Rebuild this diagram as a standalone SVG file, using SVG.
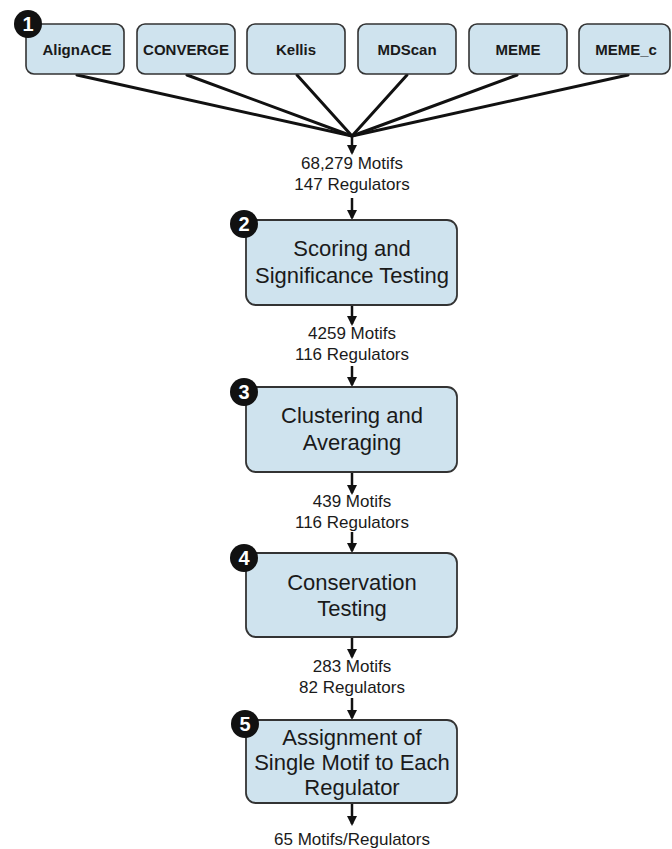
<svg xmlns="http://www.w3.org/2000/svg" width="672" height="849" viewBox="0 0 672 849">
<defs>
<style>
.src rect{fill:#cfe3ee;stroke:#333;stroke-width:1.6}
.src text{font-family:"Liberation Sans",Arial,sans-serif;font-weight:bold;font-size:15px;fill:#1a1a1a;text-anchor:middle}
.step rect{fill:#cfe3ee;stroke:#333;stroke-width:1.8}
.step text{font-family:"Liberation Sans",Arial,sans-serif;font-size:22px;fill:#1a1a1a;text-anchor:middle}
.badge circle{fill:#111}
.badge text{font-family:"Liberation Sans",Arial,sans-serif;font-weight:bold;font-size:20px;fill:#fff;text-anchor:middle}
.lbl{font-family:"Liberation Sans",Arial,sans-serif;font-size:17px;fill:#1a1a1a;text-anchor:middle}
.fan{stroke:#111;stroke-width:3;fill:none;stroke-linecap:round}
.arr{stroke:#111;stroke-width:2.5;fill:none;marker-end:url(#ah)}
</style>
<marker id="ah" markerWidth="4" markerHeight="4" refX="3.2" refY="2" orient="auto" markerUnits="strokeWidth">
<path d="M0,0 L4,2 L0,4 Z" fill="#111"/>
</marker>
</defs>

<g id="connectors">
<line class="fan" x1="77" y1="75" x2="352" y2="136"/>
<line class="fan" x1="187" y1="75" x2="352" y2="136"/>
<line class="fan" x1="297" y1="75" x2="352" y2="136"/>
<line class="fan" x1="407" y1="75" x2="352" y2="136"/>
<line class="fan" x1="517" y1="75" x2="352" y2="136"/>
<line class="fan" x1="628" y1="75" x2="352" y2="136"/>
<line class="arr" x1="352" y1="136" x2="352" y2="153"/>
<line class="arr" x1="352" y1="198" x2="352" y2="218"/>
<line class="arr" x1="352" y1="305" x2="352" y2="324"/>
<line class="arr" x1="352" y1="366" x2="352" y2="385"/>
<line class="arr" x1="352" y1="472" x2="352" y2="493"/>
<line class="arr" x1="352" y1="532" x2="352" y2="551"/>
<line class="arr" x1="352" y1="637" x2="352" y2="657"/>
<line class="arr" x1="352" y1="698" x2="352" y2="718"/>
<line class="arr" x1="352" y1="803" x2="352" y2="824"/>
</g>

<g id="src-alignace" class="src"><rect x="26" y="24" width="98" height="50" rx="8"/><text x="77" y="55">AlignACE</text></g>
<g id="src-converge" class="src"><rect x="137" y="24" width="98" height="50" rx="8"/><text x="186" y="55">CONVERGE</text></g>
<g id="src-kellis" class="src"><rect x="247" y="24" width="98" height="50" rx="8"/><text x="296" y="55">Kellis</text></g>
<g id="src-mdscan" class="src"><rect x="358" y="24" width="98" height="50" rx="8"/><text x="407" y="55">MDScan</text></g>
<g id="src-meme" class="src"><rect x="469" y="24" width="98" height="50" rx="8"/><text x="518" y="55">MEME</text></g>
<g id="src-memec" class="src"><rect x="579" y="24" width="91" height="50" rx="8"/><text x="626" y="55">MEME_c</text></g>
<g id="badge1" class="badge"><circle cx="28" cy="24" r="14"/><text x="28" y="31">1</text></g>

<g id="label1"><text class="lbl" x="352" y="169">68,279 Motifs</text><text class="lbl" x="352" y="190">147 Regulators</text></g>

<g id="step2" class="step"><rect x="246" y="220" width="211" height="85" rx="10"/><text x="352" y="256">Scoring and</text><text x="352" y="283">Significance Testing</text></g>
<g id="badge2" class="badge"><circle cx="244" cy="224" r="14"/><text x="244" y="231">2</text></g>

<g id="label2"><text class="lbl" x="352" y="339">4259 Motifs</text><text class="lbl" x="352" y="360">116 Regulators</text></g>

<g id="step3" class="step"><rect x="246" y="387" width="211" height="85" rx="10"/><text x="352" y="423">Clustering and</text><text x="352" y="450">Averaging</text></g>
<g id="badge3" class="badge"><circle cx="244" cy="392" r="14"/><text x="244" y="399">3</text></g>

<g id="label3"><text class="lbl" x="352" y="507">439 Motifs</text><text class="lbl" x="352" y="528">116 Regulators</text></g>

<g id="step4" class="step"><rect x="246" y="553" width="211" height="84" rx="10"/><text x="352" y="590">Conservation</text><text x="352" y="616">Testing</text></g>
<g id="badge4" class="badge"><circle cx="244" cy="558" r="14"/><text x="244" y="565">4</text></g>

<g id="label4"><text class="lbl" x="352" y="672">283 Motifs</text><text class="lbl" x="352" y="693">82 Regulators</text></g>

<g id="step5" class="step"><rect x="246" y="720" width="211" height="83" rx="10"/><text x="352" y="745">Assignment of</text><text x="352" y="770">Single Motif to Each</text><text x="352" y="795">Regulator</text></g>
<g id="badge5" class="badge"><circle cx="245" cy="724" r="14"/><text x="245" y="731">5</text></g>

<g id="label5"><text class="lbl" x="352" y="845">65 Motifs/Regulators</text></g>
</svg>
